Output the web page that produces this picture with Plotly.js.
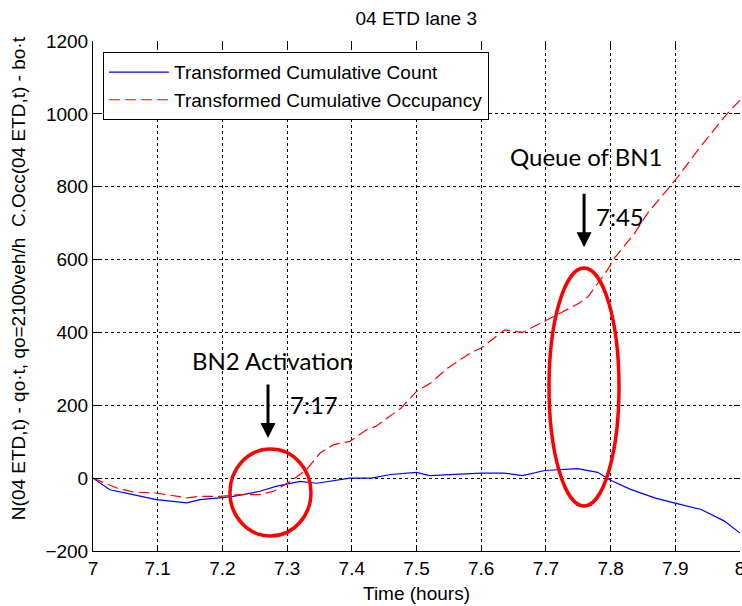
<!DOCTYPE html>
<html>
<head>
<meta charset="utf-8">
<script src="https://cdn.plot.ly/plotly-3.0.1.min.js"></script>
<style>html,body{margin:0;padding:0;background:#fff;}#chart{width:742px;height:606px;}</style>
</head>
<body>
<div id="chart"></div>
<script>
// Transformed Cumulative Count (blue)
const countX = [7.0, 7.026, 7.062, 7.098, 7.145, 7.165, 7.196, 7.217, 7.258, 7.284, 7.32, 7.346, 7.397, 7.43, 7.46, 7.5, 7.52, 7.6, 7.636, 7.664, 7.698, 7.749, 7.78, 7.8, 7.83, 7.868, 7.898, 7.94, 7.976, 8.0];
const countY = [0, -32, -45, -59, -68, -59, -54, -50, -36, -22, -9, -14, 0, 0, 10, 16, 7, 14, 14, 7, 21, 26, 16, -6, -30, -54, -68, -86, -118, -151];
// Transformed Cumulative Occupancy (red, dashed)
const occX = [7.0, 7.037, 7.062, 7.098, 7.145, 7.165, 7.196, 7.227, 7.258, 7.279, 7.305, 7.33, 7.351, 7.372, 7.397, 7.423, 7.437, 7.476, 7.5, 7.522, 7.548, 7.584, 7.6, 7.636, 7.664, 7.698, 7.718, 7.752, 7.765, 7.795, 7.806, 7.837, 7.857, 7.883, 7.904, 7.935, 7.955, 7.976, 8.0];
const occY = [0, -27, -38, -41, -54, -50, -50, -45, -45, -36, -9, 23, 69, 92, 101, 133, 142, 192, 238, 261, 302, 344, 357, 407, 400, 430, 449, 481, 498, 571, 604, 672, 727, 782, 827, 901, 947, 992, 1038];

const seriesNames = ['Transformed Cumulative Count', 'Transformed Cumulative Occupancy'];
const xTicks = [7, 7.1, 7.2, 7.3, 7.4, 7.5, 7.6, 7.7, 7.8, 7.9, 8];
const xTickText = ['7', '7.1', '7.2', '7.3', '7.4', '7.5', '7.6', '7.7', '7.8', '7.9', '8'];
const yTicks = [-200, 0, 200, 400, 600, 800, 1000, 1200];
const yTitle = 'N(04 ETD,t) - qo·t, qo=2100veh/h  C.Occ(04 ETD,t) - bo·t';

const F = 'Arial, "Liberation Sans", Helvetica, sans-serif';
const AF = 'Lato, "Open Sans", sans-serif';
const FS = 19;

const traces = [
  {x: countX, y: countY, name: seriesNames[0], type: 'scatter', mode: 'lines',
   line: {color: '#0000ff', width: 1.2}},
  {x: occX, y: occY, name: seriesNames[1], type: 'scatter', mode: 'lines',
   line: {color: '#ff0000', width: 1.2, dash: '11px,5px'}},
  {x: [], y: [], xaxis: 'x2', yaxis: 'y2', type: 'scatter', mode: 'lines', showlegend: false, hoverinfo: 'skip'}
];

const gridStyle = {showgrid: true, gridcolor: '#000', gridwidth: 1, griddash: '3px,3px'};

const layout = {
  width: 742, height: 606,
  margin: {l: 93, r: 2, t: 41, b: 55},
  paper_bgcolor: '#fff', plot_bgcolor: '#fff',
  title: {text: '04 ETD lane 3', font: {family: F, size: FS, color: '#000'}, x: 0.561, xanchor: 'center', y: 0.97, yanchor: 'middle'},
  font: {family: F, size: FS, color: '#000'},
  xaxis: Object.assign({
    range: [7, 8], tickmode: 'array', tickvals: xTicks, ticktext: xTickText, ticklabeloverflow: 'allow',
    ticks: 'inside', ticklen: 6, tickcolor: '#000', showline: true, linecolor: '#000', linewidth: 1,
    zeroline: false, tickfont: {family: F, size: FS, color: '#000'},
    title: {text: 'Time (hours)', font: {family: F, size: FS, color: '#000'}, standoff: 8}
  }, gridStyle),
  yaxis: Object.assign({
    range: [-200, 1200], tickmode: 'array', tickvals: yTicks, ticklabeloverflow: 'allow',
    ticks: 'inside', ticklen: 6, tickcolor: '#000', showline: true, linecolor: '#000', linewidth: 1,
    zeroline: false, tickfont: {family: F, size: FS, color: '#000'}
  }, gridStyle),
  xaxis2: {overlaying: 'x', matches: 'x', side: 'top', anchor: 'y2', range: [7, 8], tickmode: 'array', tickvals: xTicks,
    ticks: 'inside', ticklen: 6, tickcolor: '#000', showticklabels: false, showgrid: false, showline: false, zeroline: false},
  yaxis2: {overlaying: 'y', side: 'right', anchor: 'x2', range: [-200, 1200], tickmode: 'array', tickvals: yTicks,
    ticks: 'inside', ticklen: 6, tickcolor: '#000', showticklabels: false, showgrid: false, showline: false, zeroline: false},
  showlegend: true,
  legend: {x: 0.0155, y: 0.978, xanchor: 'left', yanchor: 'top', bgcolor: '#fff', bordercolor: '#000', borderwidth: 1,
    font: {family: F, size: FS, color: '#000'}, tracegroupgap: 0, itemwidth: 60},
  shapes: [
    {type: 'circle', xref: 'x', yref: 'y', x0: 7.2117, x1: 7.3369, y0: -158.8, y1: 80, line: {color: '#ff0000', width: 3.5}},
    {type: 'circle', xref: 'x', yref: 'y', x0: 7.7048, x1: 7.813, y0: -76.5, y1: 576.9, line: {color: '#ff0000', width: 3.5}}
  ],
  annotations: [
    {x: 0, y: 0.535, xref: 'paper', yref: 'paper', xanchor: 'center', yanchor: 'middle', xshift: -75, textangle: -90,
     text: yTitle, showarrow: false, font: {family: F, size: FS, color: '#000'}},
    {x: 7.2767, y: 324, xref: 'x', yref: 'y', text: 'BN2 Activation', showarrow: false, font: {family: AF, size: 24, color: '#000'}},
    {x: 7.3416, y: 201, xref: 'x', yref: 'y', text: '7:17', showarrow: false, font: {family: AF, size: 24, color: '#000'}},
    {x: 7.762, y: 882, xref: 'x', yref: 'y', text: 'Queue of BN1', showarrow: false, font: {family: AF, size: 24, color: '#000'}},
    {x: 7.8145, y: 717, xref: 'x', yref: 'y', text: '7:45', showarrow: false, font: {family: AF, size: 24, color: '#000'}},
    {x: 7.2705, y: 110, xref: 'x', yref: 'y', ax: 0, ay: -55, axref: 'pixel', ayref: 'pixel', text: '', showarrow: true,
     arrowhead: 2, arrowsize: 1, arrowwidth: 3, arrowcolor: '#000'},
    {x: 7.759, y: 634, xref: 'x', yref: 'y', ax: 0, ay: -55, axref: 'pixel', ayref: 'pixel', text: '', showarrow: true,
     arrowhead: 2, arrowsize: 1, arrowwidth: 3, arrowcolor: '#000'}
  ]
};

Plotly.newPlot('chart', traces, layout, {displayModeBar: false, staticPlot: true});
</script>
</body>
</html>
